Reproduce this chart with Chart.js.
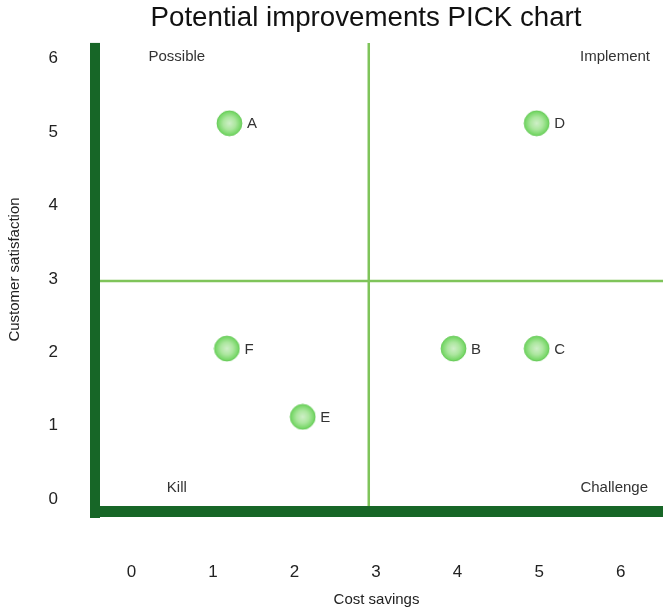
<!DOCTYPE html>
<html>
<head>
<meta charset="utf-8">
<title>Potential improvements PICK chart</title>
<script src="https://cdn.jsdelivr.net/npm/chart.js@4.4.1/dist/chart.umd.min.js"></script>
<style>
  html, body { margin: 0; padding: 0; background: #ffffff; }
  #wrap { width: 663px; height: 609px; position: relative; }
</style>
</head>
<body>
<div id="wrap"><canvas id="pick"></canvas></div>
<script>
// Improvement ideas scored on cost savings (x) and customer satisfaction (y)
const ideaNames = ['A', 'B', 'C', 'D', 'E', 'F'];
const costSavings = [1.2, 3.95, 4.97, 4.97, 2.1, 1.17];
const satisfaction = [5.12, 2.05, 2.05, 5.12, 1.12, 2.05];

// Quadrant dividers and their names
const dividerX = 2.91;
const dividerY = 2.97;
const quadrantNames = { topLeft: 'Possible', topRight: 'Implement', bottomLeft: 'Kill', bottomRight: 'Challenge' };

// Axis ticks and ranges
const xTicks = [0, 1, 2, 3, 4, 5, 6];
const yTicks = [0, 1, 2, 3, 4, 5, 6];
const xRange = [-0.51, 6.52];
const yRange = [-0.245, 6.5];
const yTopLine = 6.215;

const FONT = '"Liberation Sans", Arial, sans-serif';
const DARK_GREEN = '#176627';
const LIGHT_GREEN = '#7fc45a';

// Glossy green bubble used as the marker image
function makeBubble(r) {
  const size = Math.ceil(r * 2 + 2);
  const c = document.createElement('canvas');
  c.width = size; c.height = size;
  const g = c.getContext('2d');
  const cx = size / 2, cy = size / 2;
  const grad = g.createRadialGradient(cx, cy, 0, cx, cy, r);
  grad.addColorStop(0, '#cfefc8');
  grad.addColorStop(0.5, '#ace79f');
  grad.addColorStop(1, '#6dd45d');
  g.beginPath();
  g.arc(cx, cy, r, 0, Math.PI * 2);
  g.fillStyle = grad;
  g.fill();
  g.lineWidth = 1;
  g.strokeStyle = 'rgba(100,200,85,0.9)';
  g.stroke();
  return c;
}
const bubble = makeBubble(12.4);

const ideaPoints = ideaNames.map((n, i) => ({ x: costSavings[i], y: satisfaction[i] }));

// Keep the scales from reserving extra room around the plot for their labels
function noLabelMargins(scale) {
  scale.paddingTop = 0;
  scale.paddingBottom = 0;
  scale.paddingLeft = 0;
  scale.paddingRight = 0;
}

// Heavy axis bars, quadrant captions, point letters and the heading
const decorations = {
  id: 'decorations',
  afterDatasetsDraw(chart) {
    const { ctx, chartArea: a, scales: { x, y } } = chart;
    ctx.save();

    // letters beside each bubble
    const meta = chart.getDatasetMeta(2);
    ctx.font = '15px ' + FONT;
    ctx.fillStyle = '#333333';
    ctx.textAlign = 'left';
    ctx.textBaseline = 'middle';
    meta.data.forEach((el, i) => {
      ctx.fillText(ideaNames[i], el.x + 17.5, el.y + 1);
    });

    // quadrant captions
    ctx.font = '15px ' + FONT;
    ctx.fillStyle = '#333333';
    ctx.textAlign = 'center';
    const leftX = x.getPixelForValue(0.555);
    const topY = y.getPixelForValue(6.03);
    const botY = y.getPixelForValue(0.15);
    ctx.fillText(quadrantNames.topLeft, leftX, topY);
    ctx.fillText(quadrantNames.bottomLeft, leftX, botY);
    ctx.textAlign = 'right';
    ctx.fillText(quadrantNames.topRight, a.right - 13, topY);
    ctx.fillText(quadrantNames.bottomRight, a.right - 15, botY);

    // thick axis bars
    ctx.fillStyle = DARK_GREEN;
    const top = y.getPixelForValue(yTopLine);
    ctx.fillRect(a.left, top, 10, a.bottom + 1 - top);
    ctx.fillRect(a.left, a.bottom - 11, a.right - a.left, 11);

    // heading
    ctx.font = '27.7px ' + FONT;
    ctx.fillStyle = '#111111';
    ctx.textAlign = 'center';
    ctx.textBaseline = 'middle';
    ctx.fillText('Potential improvements PICK chart', 366, 18);
    ctx.restore();
  }
};

new Chart(document.getElementById('pick'), {
  type: 'scatter',
  data: {
    datasets: [
      {
        type: 'line',
        data: [{ x: dividerX, y: yRange[0] }, { x: dividerX, y: yTopLine }],
        borderColor: LIGHT_GREEN,
        borderWidth: 2.5,
        pointRadius: 0,
        fill: false
      },
      {
        type: 'line',
        data: [{ x: xRange[0], y: dividerY }, { x: xRange[1], y: dividerY }],
        borderColor: LIGHT_GREEN,
        borderWidth: 2.5,
        pointRadius: 0,
        fill: false
      },
      {
        data: ideaPoints,
        pointStyle: bubble,
        pointRadius: 12.4,
        pointHoverRadius: 12.4
      }
    ]
  },
  options: {
    responsive: true,
    maintainAspectRatio: false,
    animation: false,
    events: [],
    layout: { autoPadding: false, padding: { top: 22, left: 0, right: 0, bottom: 0 } },
    plugins: {
      legend: { display: false },
      tooltip: { enabled: false },
      title: { display: false }
    },
    scales: {
      x: {
        type: 'linear',
        min: xRange[0],
        max: xRange[1],
        afterBuildTicks(scale) { scale.ticks = xTicks.map(v => ({ value: v })); },
        afterFit(scale) { scale.height = 92; noLabelMargins(scale); },
        grid: { display: false, drawTicks: false },
        border: { display: false },
        ticks: { padding: 45, color: '#222222', font: { family: FONT, size: 17 } },
        title: {
          display: true,
          text: 'Cost savings',
          color: '#222222',
          font: { family: FONT, size: 15 },
          padding: { top: 0, bottom: 0 }
        }
      },
      y: {
        type: 'linear',
        min: yRange[0],
        max: yRange[1],
        afterBuildTicks(scale) { scale.ticks = yTicks.map(v => ({ value: v })); },
        afterFit(scale) { scale.width = 90; noLabelMargins(scale); },
        grid: { display: false, drawTicks: false },
        border: { display: false },
        ticks: { padding: 32, color: '#222222', font: { family: FONT, size: 17 } },
        title: {
          display: true,
          text: 'Customer satisfaction',
          color: '#222222',
          font: { family: FONT, size: 15 },
          padding: { top: 6, bottom: 0 }
        }
      }
    }
  },
  plugins: [decorations]
});
</script>
</body>
</html>
